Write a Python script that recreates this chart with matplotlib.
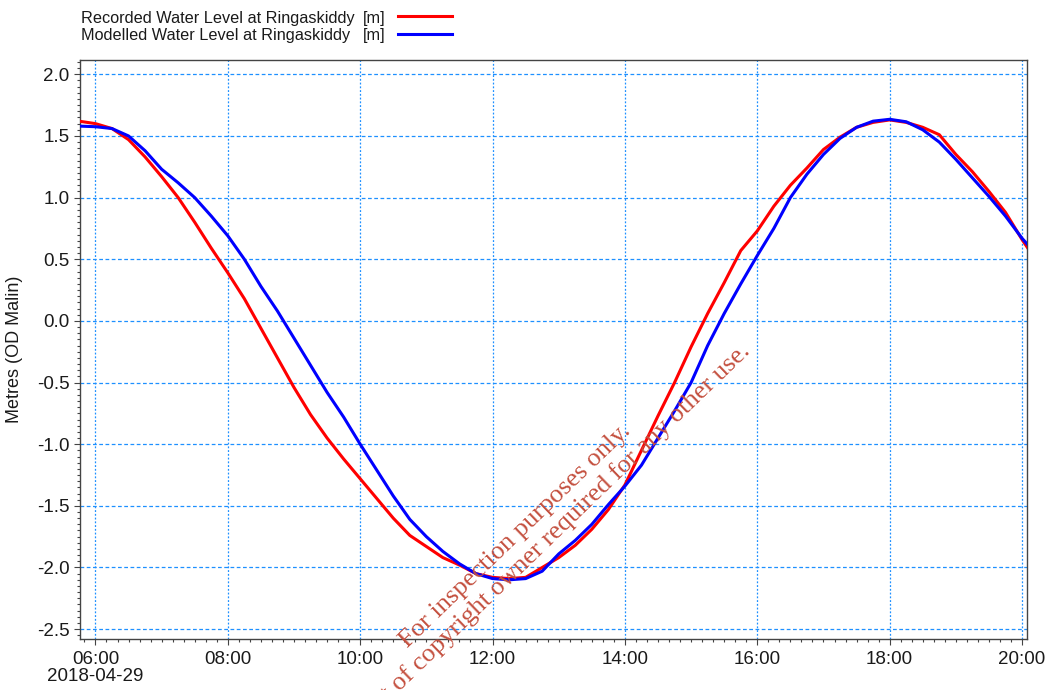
import datetime as dt
import numpy as np
import matplotlib
matplotlib.use("Agg")
import matplotlib.pyplot as plt
import matplotlib.dates as mdates
from matplotlib.lines import Line2D
from matplotlib.ticker import MultipleLocator

day = "2018-04-29"

# Water levels, every 15 minutes (metres OD Malin)
times = ["05:45", "06:00", "06:15", "06:30", "06:45", "07:00", "07:15", "07:30",
         "07:45", "08:00", "08:15", "08:30", "08:45", "09:00", "09:15", "09:30",
         "09:45", "10:00", "10:15", "10:30", "10:45", "11:00", "11:15", "11:30",
         "11:45", "12:00", "12:15", "12:30", "12:45", "13:00", "13:15", "13:30",
         "13:45", "14:00", "14:15", "14:30", "14:45", "15:00", "15:15", "15:30",
         "15:45", "16:00", "16:15", "16:30", "16:45", "17:00", "17:15", "17:30",
         "17:45", "18:00", "18:15", "18:30", "18:45", "19:00", "19:15", "19:30",
         "19:45", "20:00", "20:06"]

recorded = [1.62, 1.60, 1.56, 1.47, 1.33, 1.17, 1.00, 0.80,
            0.59, 0.39, 0.18, -0.06, -0.30, -0.54, -0.76, -0.95,
            -1.12, -1.28, -1.44, -1.60, -1.74, -1.83, -1.92, -1.98,
            -2.05, -2.08, -2.09, -2.08, -2.00, -1.92, -1.82, -1.69,
            -1.53, -1.33, -1.05, -0.77, -0.50, -0.21, 0.06, 0.31,
            0.57, 0.73, 0.93, 1.10, 1.24, 1.39, 1.49, 1.57,
            1.61, 1.63, 1.61, 1.57, 1.51, 1.35, 1.21, 1.05,
            0.88, 0.66, 0.58]

modelled = [1.58, 1.575, 1.56, 1.50, 1.38, 1.23, 1.12, 1.00,
            0.85, 0.69, 0.50, 0.28, 0.08, -0.14, -0.36, -0.58,
            -0.78, -1.00, -1.21, -1.42, -1.61, -1.75, -1.87, -1.97,
            -2.05, -2.09, -2.10, -2.09, -2.03, -1.89, -1.78, -1.65,
            -1.49, -1.34, -1.17, -0.95, -0.73, -0.50, -0.20, 0.06,
            0.30, 0.53, 0.75, 1.00, 1.19, 1.35, 1.48, 1.57,
            1.62, 1.635, 1.615, 1.55, 1.45, 1.31, 1.16, 1.01,
            0.85, 0.67, 0.61]

legend_labels = ["Recorded Water Level at Ringaskiddy", "Modelled Water Level at Ringaskiddy"]
legend_units = ["[m]", "[m]"]
colors = ["#ff0000", "#0000ff"]

tick_hours = [6, 8, 10, 12, 14, 16, 18, 20]
tick_labels = ["06:00\n" + day, "08:00", "10:00", "12:00", "14:00", "16:00", "18:00", "20:00"]

base = dt.datetime.strptime(day, "%Y-%m-%d")
x = [dt.datetime.strptime(day + " " + t, "%Y-%m-%d %H:%M") for t in times]

plt.rcParams['font.family'] = ['Liberation Sans', 'DejaVu Sans']

fig = plt.figure(figsize=(10.49, 6.90), dpi=100)
ax = fig.add_axes([80 / 1049, 51 / 690, (1027 - 80) / 1049, (639 - 60) / 690])

grid_col = "#1e90ff"
ax.plot(x, recorded, color=colors[0], lw=2.2, zorder=3)
ax.plot(x, modelled, color=colors[1], lw=2.2, zorder=4)

ax.set_xlim(base + dt.timedelta(hours=5, minutes=46), base + dt.timedelta(hours=20, minutes=4, seconds=30))
ax.set_ylim(-2.58, 2.116)

ax.set_xticks([base + dt.timedelta(hours=h) for h in tick_hours])
ax.set_xticklabels(tick_labels, fontsize=13.5, linespacing=1.05)
ax.xaxis.set_minor_locator(mdates.MinuteLocator(byminute=range(0, 60, 10)))

ax.set_yticks(np.arange(-2.5, 2.01, 0.5))
ax.set_yticklabels(["%.1f" % v for v in np.arange(-2.5, 2.01, 0.5)], fontsize=13.5)
ax.yaxis.set_minor_locator(MultipleLocator(0.05))

ax.tick_params(which="major", direction="out", length=4.5, width=0.8, color="#444444",
               labelcolor="#1a1a1a", pad=3)
ax.tick_params(which="minor", direction="out", length=2.3, width=0.8, color="#444444")
ax.tick_params(axis="x", which="major", pad=4)

ax.grid(True, axis="y", which="major", color=grid_col, lw=0.9, linestyle=(0, (3, 2)))
ax.grid(True, axis="x", which="major", color=grid_col, lw=0.9, linestyle=(0, (1.5, 1.5)))
ax.set_axisbelow(True)

for s in ax.spines.values():
    s.set_color("#444444")
    s.set_linewidth(1.0)

ax.set_ylabel("Metres (OD Malin)", fontsize=13, color="#1a1a1a", labelpad=10)

# legend drawn like the original: label, unit column, line sample
for i, (lab, unit) in enumerate(zip(legend_labels, legend_units)):
    ty = 1 - (22.7 + 17.5 * i) / 690
    ly = 1 - (16.3 + 17.5 * i) / 690
    fig.text(81 / 1049, ty, lab, fontsize=11.7, color="#1a1a1a", va="baseline")
    fig.text(363 / 1049, ty, unit, fontsize=11.7, color="#1a1a1a", va="baseline")
    fig.add_artist(Line2D([398 / 1049, 452 / 1049], [ly, ly], color=colors[i], lw=2.2))

# watermark
wm = dict(fontsize=19, color="#c4503f", rotation=44, rotation_mode="anchor",
          family=["Liberation Serif", "DejaVu Serif"], va="baseline", zorder=10)
fig.text(408 / 1049, 1 - 648 / 690, "For inspection purposes only.", ha="left", **wm)
fig.text(751 / 1049, 1 - 352 / 690, "Consent of copyright owner required for any other use.", ha="right", **wm)

fig.savefig("out.png", dpi=100)
